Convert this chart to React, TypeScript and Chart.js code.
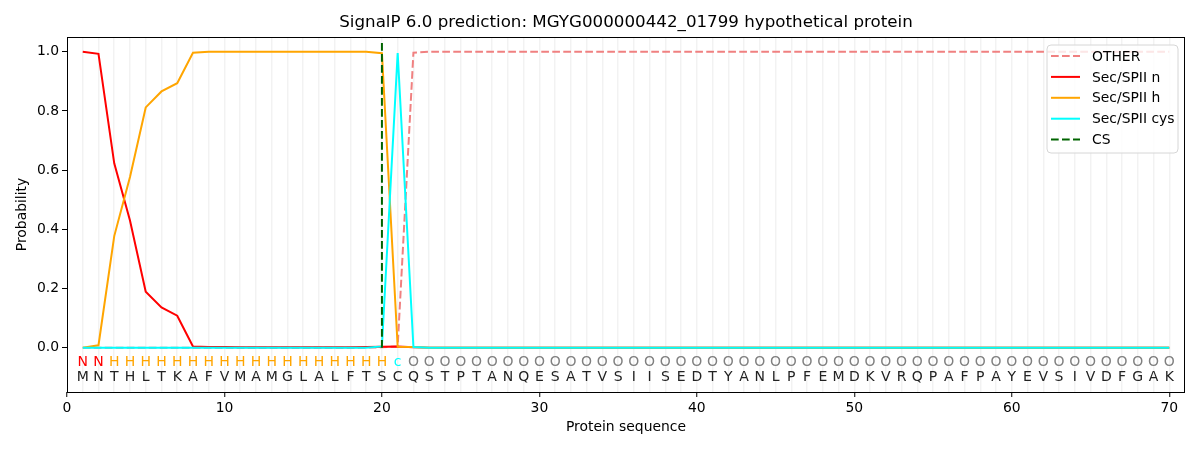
import { useEffect, useRef } from "react";
import { Chart, registerables } from "chart.js";

Chart.register(...registerables);

const titleText = "SignalP 6.0 prediction: MGYG000000442_01799 hypothetical protein";

const positions = [
  1, 2, 3, 4, 5, 6, 7, 8, 9, 10, 11, 12, 13, 14, 15, 16, 17, 18, 19, 20,
  21, 22, 23, 24, 25, 26, 27, 28, 29, 30, 31, 32, 33, 34, 35, 36, 37, 38, 39, 40,
  41, 42, 43, 44, 45, 46, 47, 48, 49, 50, 51, 52, 53, 54, 55, 56, 57, 58, 59, 60,
  61, 62, 63, 64, 65, 66, 67, 68, 69, 70,
];

const sequence = "MNTHLTKAFVMAMGLALFTSCQSTPTANQESATVSIISEDTYANLPFEMDKVRQPAFPAYEVSIVDFGAK".split("");
const regionLabels = "NNHHHHHHHHHHHHHHHHHHcOOOOOOOOOOOOOOOOOOOOOOOOOOOOOOOOOOOOOOOOOOOOOOOOO".split("");

const other = [
  0, 0, 0, 0, 0, 0, 0, 0, 0, 0,
  0, 0, 0, 0, 0, 0, 0, 0, 0, 0.001,
  0.004, 0.997, 1, 1, 1, 1, 1, 1, 1, 1,
  1, 1, 1, 1, 1, 1, 1, 1, 1, 1,
  1, 1, 1, 1, 1, 1, 1, 1, 1, 1,
  1, 1, 1, 1, 1, 1, 1, 1, 1, 1,
  1, 1, 1, 1, 1, 1, 1, 1, 1, 1,
];

const secN = [
  1.0, 0.993, 0.623, 0.43, 0.189, 0.136, 0.108, 0.004, 0.002, 0.002,
  0.001, 0.001, 0.001, 0.001, 0.001, 0.001, 0.001, 0.001, 0.002, 0.003,
  0.004, 0.001, 0, 0, 0, 0, 0, 0, 0, 0,
  0, 0, 0, 0, 0, 0, 0, 0, 0, 0,
  0, 0, 0, 0, 0, 0, 0, 0, 0, 0,
  0, 0, 0, 0, 0, 0, 0, 0, 0, 0,
  0, 0, 0, 0, 0, 0, 0, 0, 0, 0,
];

const secH = [
  0, 0.008, 0.377, 0.577, 0.812, 0.866, 0.894, 0.997, 1, 1,
  1, 1, 1, 1, 1, 1, 1, 1, 1, 0.995,
  0.003, 0.002, 0, 0, 0, 0, 0, 0, 0, 0,
  0, 0, 0, 0, 0, 0, 0, 0, 0, 0,
  0, 0, 0, 0, 0, 0, 0, 0, 0, 0,
  0, 0, 0, 0, 0, 0, 0, 0, 0, 0,
  0, 0, 0, 0, 0, 0, 0, 0, 0, 0,
];

const secCys = [
  0, 0, 0, 0, 0, 0, 0, 0, 0, 0,
  0, 0, 0, 0, 0, 0, 0, 0, 0, 0.004,
  0.996, 0.002, 0, 0, 0, 0, 0, 0, 0, 0,
  0, 0, 0, 0, 0, 0, 0, 0, 0, 0,
  0, 0, 0, 0, 0, 0, 0, 0, 0, 0,
  0, 0, 0, 0, 0, 0, 0, 0, 0, 0,
  0, 0, 0, 0, 0, 0, 0, 0, 0, 0,
];

const csX = [20, 20];
const csY = [0, 1.037];

const xTicks = [
  0, 1, 2, 3, 4, 5, 6, 7, 8, 9, 10, 11, 12, 13, 14, 15, 16, 17, 18, 19, 20,
  21, 22, 23, 24, 25, 26, 27, 28, 29, 30, 31, 32, 33, 34, 35, 36, 37, 38, 39, 40,
  41, 42, 43, 44, 45, 46, 47, 48, 49, 50, 51, 52, 53, 54, 55, 56, 57, 58, 59, 60,
  61, 62, 63, 64, 65, 66, 67, 68, 69, 70, 71,
];
const yTicks = [0, 0.2, 0.4, 0.6, 0.8, 1.0];

const FONT = "'DejaVu Sans', sans-serif";
const labelColors: any = { N: "#ff0000", H: "#ffa500", c: "#00ffff", O: "#808080" };
const dash = [7.7, 3.3];

const legendItems = [
  { text: "OTHER", color: "#f08080", dash: dash },
  { text: "Sec/SPII n", color: "#ff0000", dash: [] },
  { text: "Sec/SPII h", color: "#ffa500", dash: [] },
  { text: "Sec/SPII cys", color: "#00ffff", dash: [] },
  { text: "CS", color: "#006400", dash: dash },
];

const toPoints = (ys: number[]) => positions.map((p, i) => ({ x: p, y: ys[i] }));

// draws sequence letters, frame, title, axis titles and the legend
const decorPlugin = {
  id: "decor",
  afterDatasetsDraw(chart: any) {
    const { ctx, scales } = chart;
    const x = scales.x;
    const y = scales.y;
    ctx.save();
    ctx.font = `14px ${FONT}`;
    ctx.textAlign = "center";
    ctx.textBaseline = "middle";
    positions.forEach((p, i) => {
      const px = x.getPixelForValue(p);
      ctx.fillStyle = labelColors[regionLabels[i]];
      ctx.fillText(regionLabels[i], px, y.getPixelForValue(-0.05));
      ctx.fillStyle = "#222";
      ctx.fillText(sequence[i], px, y.getPixelForValue(-0.102));
    });
    ctx.restore();
  },
  afterDraw(chart: any) {
    const { ctx, chartArea: a } = chart;
    ctx.save();
    ctx.strokeStyle = "#000";
    ctx.lineWidth = 1;
    ctx.strokeRect(a.left + 0.5, a.top + 0.5, a.right - a.left - 1, a.bottom - a.top);

    ctx.fillStyle = "#000";
    ctx.textAlign = "center";
    ctx.textBaseline = "middle";
    ctx.font = `16.7px ${FONT}`;
    ctx.fillText(titleText, (a.left + a.right) / 2, 22.5);
    ctx.font = `13.9px ${FONT}`;
    ctx.fillText("Protein sequence", (a.left + a.right) / 2, 427);
    ctx.save();
    ctx.translate(22, (a.top + a.bottom) / 2);
    ctx.rotate(-Math.PI / 2);
    ctx.fillText("Probability", 0, 0);
    ctx.restore();

    // legend box
    const bx = 1047, by = 45, bw = 131, bh = 108, r = 4;
    ctx.beginPath();
    ctx.moveTo(bx + r, by);
    ctx.arcTo(bx + bw, by, bx + bw, by + bh, r);
    ctx.arcTo(bx + bw, by + bh, bx, by + bh, r);
    ctx.arcTo(bx, by + bh, bx, by, r);
    ctx.arcTo(bx, by, bx + bw, by, r);
    ctx.closePath();
    ctx.fillStyle = "rgba(255,255,255,0.8)";
    ctx.fill();
    ctx.strokeStyle = "#d6d6d6";
    ctx.lineWidth = 1;
    ctx.stroke();

    ctx.textAlign = "left";
    ctx.font = `13.9px ${FONT}`;
    legendItems.forEach((it, i) => {
      const ly = 56 + i * 20.9;
      ctx.beginPath();
      ctx.setLineDash(it.dash);
      ctx.strokeStyle = it.color;
      ctx.lineWidth = 2;
      ctx.moveTo(1051, ly);
      ctx.lineTo(1080, ly);
      ctx.stroke();
      ctx.setLineDash([]);
      ctx.fillStyle = "#000";
      ctx.fillText(it.text, 1092, ly + 1);
    });
    ctx.restore();
  },
};

const SignalPChart = () => {
  const chartRef = useRef<HTMLCanvasElement>(null);

  useEffect(() => {
    document.body.style.margin = "0";
    const ctx = chartRef.current!.getContext("2d")!;

    const chart = new Chart(ctx, {
      type: "line",
      data: {
        datasets: [
          { label: "OTHER", data: toPoints(other), borderColor: "#f08080", borderDash: dash, order: 5 },
          { label: "Sec/SPII n", data: toPoints(secN), borderColor: "#ff0000", order: 4 },
          { label: "Sec/SPII h", data: toPoints(secH), borderColor: "#ffa500", order: 3 },
          { label: "Sec/SPII cys", data: toPoints(secCys), borderColor: "#00ffff", order: 2 },
          {
            label: "CS",
            data: csX.map((v, i) => ({ x: v, y: csY[i] })),
            borderColor: "#006400",
            borderDash: dash,
            order: 1,
          },
        ] as any,
      },
      options: {
        animation: false,
        responsive: true,
        maintainAspectRatio: false,
        layout: { padding: { top: 37, right: 15, left: 0, bottom: 0 } },
        elements: {
          point: { radius: 0 },
          line: { borderWidth: 2, tension: 0 },
        },
        plugins: {
          legend: { display: false },
          title: { display: false },
          tooltip: { enabled: false },
        },
        scales: {
          x: {
            type: "linear",
            min: 0,
            max: 71,
            afterFit: (s: any) => {
              s.height = 58;
            },
            afterBuildTicks: (s: any) => {
              s.ticks = xTicks.map((v) => ({ value: v }));
            },
            grid: {
              drawOnChartArea: true,
              color: (c: any) =>
                c.tick && c.tick.value >= 1 && c.tick.value <= 70 ? "rgba(0,0,0,0.05)" : "rgba(0,0,0,0)",
              lineWidth: 1.5,
              tickColor: (c: any) => (c.tick && c.tick.value % 10 === 0 ? "#000" : "rgba(0,0,0,0)"),
              tickLength: 5,
              tickWidth: 1,
            },
            border: { display: false },
            ticks: {
              autoSkip: false,
              maxRotation: 0,
              padding: 3,
              color: "#000",
              font: { family: FONT, size: 13.9 },
              callback: (v: any) => (v % 10 === 0 ? String(v) : ""),
            },
          },
          y: {
            type: "linear",
            min: -0.15,
            max: 1.05,
            afterFit: (s: any) => {
              s.width = 67;
            },
            afterBuildTicks: (s: any) => {
              s.ticks = yTicks.map((v) => ({ value: v }));
            },
            grid: {
              drawOnChartArea: false,
              tickColor: "#000",
              tickLength: 5,
              tickWidth: 1,
            },
            border: { display: false },
            ticks: {
              padding: 3,
              color: "#000",
              font: { family: FONT, size: 13.9 },
              callback: (v: any) => Number(v).toFixed(1),
            },
          },
        },
      },
      plugins: [decorPlugin],
    });

    return () => {
      chart.destroy();
    };
  }, []);

  return (
    <div style={{ width: "1200px", height: "450px" }}>
      <canvas ref={chartRef}></canvas>
    </div>
  );
};

export default function App() {
  return <SignalPChart />;
}
